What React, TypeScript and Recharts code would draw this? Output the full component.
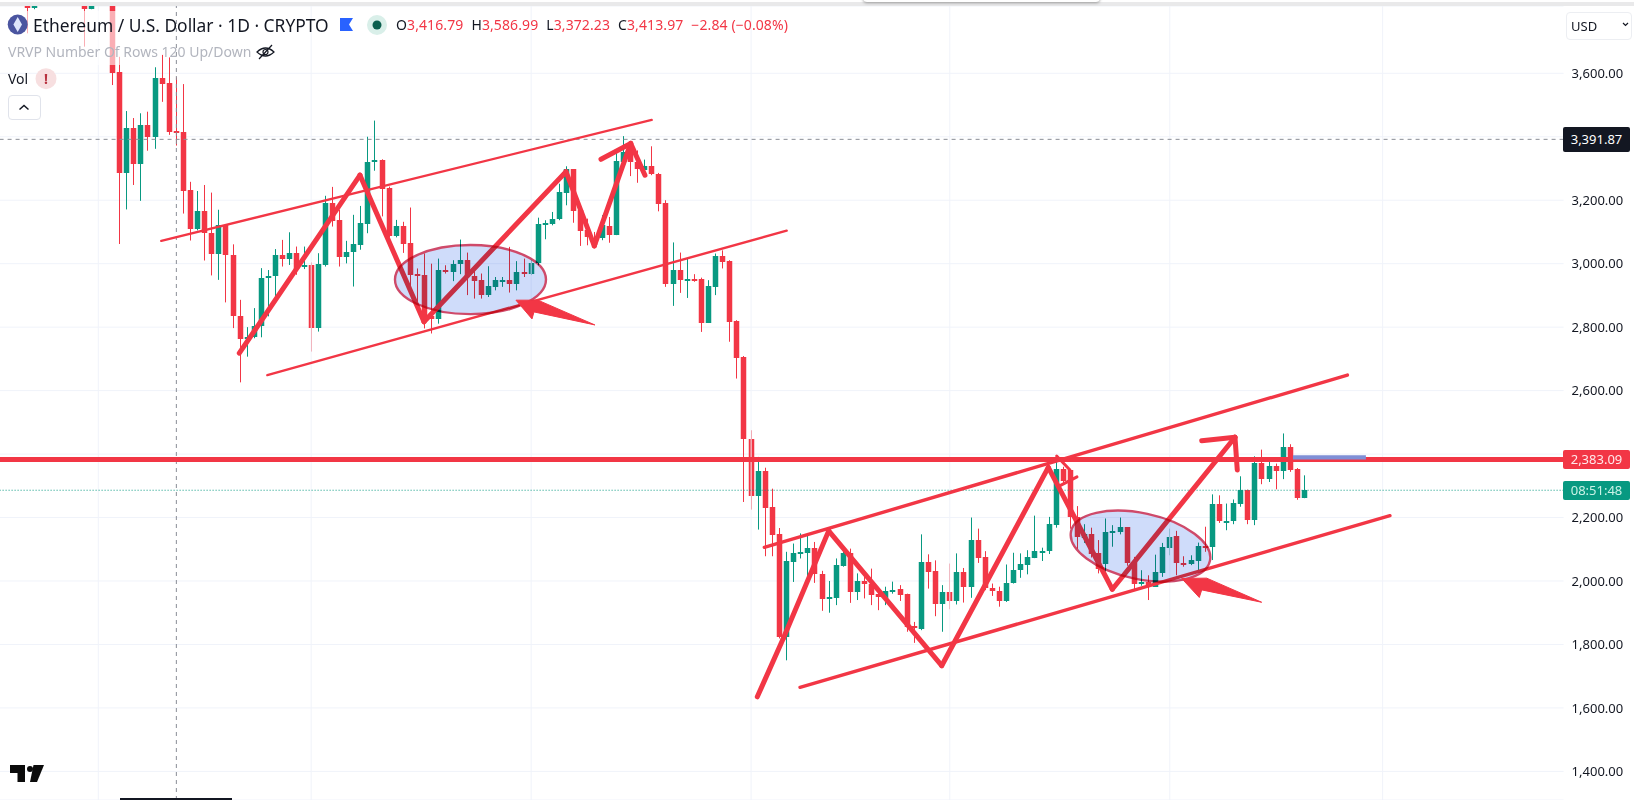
import {
  Bar,
  CartesianGrid,
  ComposedChart,
  ReferenceArea,
  ReferenceLine,
  XAxis,
  YAxis,
} from 'recharts'

const UP = '#089981'
const DOWN = '#f23645'
const GRID = '#f0f3fa'
const FONT = '"Noto Sans", Roboto, sans-serif'

// day 0 is 1 Nov, the series starts at day -10; null = candle sits above the visible range
const FIRST_DAY = -10
const opens = [
  3850, 3805, null, null, null, null, null, null, 3850, 3804, null, null, 3830,
  3604, 3287, 3428, 3315, 3437, 3400, 3585, 3570, 3416.79, 3415, 3231, 3110, 3166, 3096, 3029, 3121, 3026, 2834,
  2763, 2770, 2804, 2954, 2960, 3027, 3016, 3034, 2993, 2996, 2798, 2996, 3190, 3138, 3020, 3038, 3059, 3125, 3320,
  3327, 3238, 3086, 3118, 3065, 2967, 2964, 2835, 2825, 2980, 2974, 2998, 3011, 2962, 2948, 2901, 2925, 2947, 2950,
  2935, 2973, 2967, 3001, 3122, 3124, 3140, 3223, 3298, 3168, 3105, 3080, 3081, 3120, 3091, 3320, 3373, 3320, 3294,
  3309, 3284, 3190, 2935, 2979, 2950, 2953, 2951, 2814, 2927, 3024, 3008, 2819, 2705, 2449, 2268, 2346, 2232, 2147,
  1824, 2060, 2088, 2089, 2105, 2023, 1942, 1947, 2047, 2087, 1966, 2000, 1992, 1958, 1947, 1970, 1974, 1958, 1858,
  1850, 2060, 2031, 1928, 1964, 1938, 2027, 1982, 2128, 2075, 1978, 1970, 1936, 1994, 2034, 2050, 2073, 2092, 2094,
  2176, 2354, 2349, 2202, 2137, 2147, 2087, 2055, 2153, 2154, 2170, 2060, 1994, 1996, 1982, 2026, 2104, 2141, 2058,
  2053, 2063, 2109, 2108, 2242, 2189, 2190, 2242, 2286, 2192, 2371, 2321, 2362, 2346, 2422, 2352, 2261,
]
const highs = [
  3900, 3880, null, null, null, null, null, null, 3880, 3880, null, null, 3900,
  3652, 3481, 3459, 3474, 3479, 3619, 3658, 3650, 3586.99, 3566, 3258, 3229, 3248, 3224, 3170, 3124, 3061, 2886,
  2800, 2860, 2986, 2980, 3046, 3075, 3099, 3054, 3054, 3004, 3033, 3214, 3242, 3170, 3072, 3154, 3182, 3400, 3451,
  3329, 3243, 3138, 3132, 3177, 2985, 3032, 3000, 3016, 2995, 3011, 3076, 3035, 2990, 2969, 2992, 2958, 2958, 3053,
  3008, 3016, 3011, 3145, 3137, 3163, 3252, 3307, 3298, 3168, 3142, 3100, 3153, 3147, 3357, 3402, 3378, 3357, 3328,
  3370, 3286, 3200, 3067, 3035, 3016, 2967, 2956, 2948, 3032, 3042, 3011, 2822, 2709, 2475, 2391, 2357, 2291, 2167,
  2092, 2118, 2150, 2147, 2123, 2032, 2000, 2071, 2102, 2102, 2024, 2013, 2039, 1976, 1982, 1998, 1987, 1960, 1871,
  2147, 2084, 2065, 1987, 2055, 2087, 2041, 2200, 2165, 2094, 1992, 1982, 2052, 2089, 2087, 2097, 2206, 2105, 2202,
  2393, 2360, 2351, 2236, 2179, 2168, 2129, 2197, 2176, 2200, 2170, 2076, 2034, 2018, 2083, 2120, 2165, 2158, 2078,
  2081, 2121, 2171, 2273, 2270, 2244, 2257, 2330, 2288, 2393, 2414, 2386, 2370, 2465, 2431, 2356, 2333,
]
const lows = [
  3726, 3802, null, null, null, null, null, null, 3684, 3802, null, null, 3563,
  3062, 3171, 3248, 3198, 3356, 3362, 3510, 3406, 3372.23, 3158, 3073, 3105, 3010, 2963, 2949, 2878, 2797, 2626,
  2707, 2765, 2768, 2834, 2897, 2991, 2996, 2965, 2983, 2723, 2786, 2991, 3117, 2991, 3001, 2928, 3044, 3096, 3293,
  3149, 3083, 3083, 3034, 2901, 2875, 2796, 2780, 2811, 2969, 2945, 2967, 2901, 2890, 2890, 2895, 2916, 2927, 2909,
  2916, 2958, 2964, 2995, 3077, 3121, 3137, 3184, 3129, 3056, 3058, 3055, 3074, 3066, 3090, 3315, 3276, 3255, 3279,
  3279, 3165, 2927, 2867, 2908, 2892, 2943, 2785, 2813, 2901, 2985, 2754, 2638, 2249, 2225, 2162, 2078, 2078, 1819,
  1750, 1997, 2071, 2013, 1994, 1906, 1900, 1924, 2045, 1931, 1940, 1945, 1924, 1908, 1924, 1960, 1937, 1840, 1805,
  1845, 1976, 1889, 1840, 1911, 1926, 1932, 1947, 2057, 1971, 1953, 1919, 1934, 1992, 2010, 2021, 2072, 2063, 2085,
  2168, 2307, 2165, 2102, 2120, 2074, 2024, 2024, 2108, 2147, 2048, 1973, 1985, 1940, 1982, 2013, 2081, 2018, 2045,
  2050, 2026, 2092, 2066, 2183, 2160, 2179, 2234, 2179, 2176, 2305, 2312, 2289, 2321, 2344, 2256, 2261,
]
const closes = [
  3805, 3850, null, null, null, null, null, null, 3804, 3850, null, null, 3602,
  3287, 3428, 3315, 3437, 3400, 3585, 3566, 3415, 3413.97, 3230, 3110, 3166, 3096, 3029, 3121, 3026, 2834, 2763,
  2770, 2804, 2954, 2962, 3027, 3016, 3034, 2983, 2996, 2798, 2998, 3190, 3133, 3022, 3038, 3061, 3128, 3321, 3326,
  3236, 3086, 3119, 3062, 2965, 2965, 2822, 2827, 2980, 2977, 3000, 3011, 2962, 2946, 2901, 2929, 2948, 2950, 2935,
  2973, 2970, 3003, 3124, 3127, 3142, 3225, 3298, 3166, 3103, 3085, 3058, 3121, 3091, 3323, 3352, 3319, 3297, 3309,
  3282, 3188, 2935, 2979, 2948, 2953, 2948, 2814, 2929, 3024, 3006, 2817, 2703, 2449, 2268, 2346, 2230, 2146, 1824,
  2062, 2087, 2091, 2105, 2023, 1942, 1948, 2049, 2087, 1966, 2000, 1991, 1955, 1948, 1970, 1973, 1955, 1855, 1853,
  2060, 2029, 1927, 1964, 1938, 2027, 1982, 2128, 2073, 1978, 1968, 1936, 1995, 2036, 2052, 2075, 2093, 2096, 2179,
  2354, 2314, 2202, 2139, 2149, 2084, 2039, 2154, 2156, 2170, 2058, 1992, 1998, 1987, 2028, 2107, 2139, 2057, 2055,
  2066, 2110, 2107, 2242, 2188, 2190, 2245, 2286, 2192, 2371, 2321, 2362, 2346, 2422, 2349, 2261, 2286,
]

const priceTicks = [1400, 1600, 1800, 2000, 2200, 2400, 2600, 2800, 3000, 3200, 3400, 3600]
const monthStarts = [0, 30, 61, 92, 120, 151, 181]
const priceDomain = [1309.8, 3812.1]
const dayDomain = [-14.5, 206.5]

const resistance = 2383.09
const lastPrice = 2286
const crosshairPrice = 3391.87
const crosshairDay = 11

// drawings, as [day, price]
const channelLines = [
  { width: 2.4, points: [[8.88, 3072], [77.99, 3453]] },
  { width: 2.4, points: [[23.82, 2649], [97.01, 3104]] },
  { width: 3.4, points: [[93.86, 2106], [176.03, 2649]] },
  { width: 3.4, points: [[98.89, 1665], [182.03, 2206]] },
]
const swingLines = [
  { width: 5, points: [[19.87, 2718], [36.88, 3279], [45.9, 2817], [65.91, 3290], [69.9, 3056], [75.03, 3379], [77.04, 3279]] },
  { width: 5, points: [[70.84, 3329], [75.03, 3379]] },
  { width: 5, points: [[92.87, 1635], [96.53, 1819], [102.93, 2158], [118.86, 1733], [133.88, 2358], [142.9, 1974], [160.19, 2453], [160.51, 2350]] },
  { width: 5, points: [[155.5, 2442], [160.19, 2453]] },
  { width: 3, points: [[135.06, 2394], [136.93, 2350]] },
  { width: 3, points: [[135.4, 2299], [137.92, 2328]] },
]
const arrows = [
  [[58.86, 2885], [61.96, 2885], [69.98, 2807], [61.4, 2848], [61.12, 2826]],
  [[152.68, 2008], [156.2, 2009], [163.95, 1933], [155.5, 1972], [155.16, 1948]],
]
const ellipses = [
  { days: [41.81, 63.09], prices: [2841, 3059], tilt: 0 },
  { days: [136.87, 156.88], prices: [2006, 2214], tilt: 12 },
]
const targetBar = { days: [168.36, 178.64], prices: [2383, 2396] }

const slots = Array.from({ length: 221 }, (_, i) => i - 14)
const candleTable = slots.map((day) => {
  const i = day - FIRST_DAY
  const open = opens[i]
  if (open === null || open === undefined) return { day }
  return { day, open, high: highs[i], low: lows[i], close: closes[i], range: [lows[i], highs[i]] }
})

function Candle(props: any) {
  const { x, y, width, height, payload } = props
  if (!payload || payload.open === undefined) return null
  const { open, high, low, close } = payload
  const toY = (v: number) => y + (height * (high - v)) / (high - low)
  const color = close >= open ? UP : DOWN
  const cx = Math.round(x + width / 2 - 0.5) + 0.5
  const top = Math.round(toY(Math.max(open, close)))
  const bottom = Math.max(Math.round(toY(Math.min(open, close))), top + 2)
  return (
    <g>
      <line x1={cx} x2={cx} y1={y} y2={y + height} stroke={color} strokeWidth={1} />
      <rect x={cx - 2.75} y={top} width={5.5} height={bottom - top} fill={color} />
    </g>
  )
}

function polygonShape(vertices: number[][]) {
  const xs = vertices.map((v) => v[0])
  const ys = vertices.map((v) => v[1])
  const minX = Math.min(...xs)
  const maxX = Math.max(...xs)
  const minY = Math.min(...ys)
  const maxY = Math.max(...ys)
  return (p: any) => {
    const pts = vertices
      .map((v) => {
        const px = p.x + (p.width * (v[0] - minX)) / (maxX - minX)
        const py = p.y + (p.height * (maxY - v[1])) / (maxY - minY)
        return `${px},${py}`
      })
      .join(' ')
    return <polygon points={pts} fill={DOWN} stroke={DOWN} strokeWidth={1} strokeLinejoin="round" />
  }
}

function ellipseShape(tilt: number) {
  return (p: any) => {
    const cx = p.x + p.width / 2
    const cy = p.y + p.height / 2
    return (
      <ellipse
        cx={cx}
        cy={cy}
        rx={p.width / 2}
        ry={p.height / 2}
        transform={`rotate(${tilt} ${cx} ${cy})`}
        fill="#cfdcfa"
        stroke="#cf4a6a"
        strokeWidth={2.4}
        style={{ mixBlendMode: 'multiply' }}
      />
    )
  }
}

const axisBox = (top: number, height: number, background: string, color: string, text: string) => (
  <div
    style={{
      position: 'absolute',
      left: 1563,
      top,
      width: 67,
      height,
      lineHeight: `${height}px`,
      background,
      color,
      borderRadius: 2,
      fontSize: 13,
      textAlign: 'center',
    }}
  >
    {text}
  </div>
)

function Legend() {
  const values = [
    ['O', '3,416.79'],
    ['H', '3,586.99'],
    ['L', '3,372.23'],
    ['C', '3,413.97'],
  ]
  return (
    <>
      <div style={{ position: 'absolute', left: 0, top: 11, width: 122, height: 54, background: 'rgba(255,255,255,0.6)' }} />
      <div style={{ position: 'absolute', left: 0, top: 0, width: 1634, height: 2, background: '#fff' }} />
      <div style={{ position: 'absolute', left: 0, top: 2, width: 1634, height: 4, background: '#e9e9ea' }} />
      <div style={{ position: 'absolute', left: 863, top: -6, width: 237, height: 8, background: '#fff', borderRadius: 6, boxShadow: '0 1px 3px rgba(0,0,0,0.35)' }} />
      <svg width={1634} height={800} style={{ position: 'absolute', left: 0, top: 0 }}>
        <circle cx={17.7} cy={24.5} r={10} fill="#4b55a0" />
        <polygon points="17.7,17 22,24.5 17.7,32 13.4,24.5" fill="#dfe6fb" />
        <polygon points="340,18 353,18 349,24.5 353,31 340,31" fill="#2962ff" />
        <circle cx={377} cy={25} r={10} fill="#d9efe9" />
        <circle cx={377} cy={25} r={4.5} fill="#0b5f4e" />
        <circle cx={46} cy={78.7} r={10.5} fill="#f7dfe0" />
        <path d="M19.5 109.5 L24 105.5 L28.5 109.5" fill="none" stroke="#131722" strokeWidth={1.5} />
        <g fill="none" stroke="#131722" strokeWidth={1.2}>
          <path d="M257 52 Q265.5 44 274 52 Q265.5 60 257 52 Z" />
          <circle cx={265.5} cy={52} r={2.5} />
          <path d="M259 59 L272 45" />
        </g>
        <path d="M10 765 H25 V782 H17.5 V773 H10 Z" fill="#0b0b0b" />
        <circle cx={30} cy={769} r={3} fill="#0b0b0b" />
        <path d="M33.5 765 H44 L37 782 H30 Z" fill="#0b0b0b" />
        <path d="M1623 23 L1625.5 25.5 L1628 23" fill="none" stroke="#131722" strokeWidth={1.2} />
      </svg>
      <div style={{ position: 'absolute', left: 33, top: 13, fontSize: 17.4, lineHeight: '24px', color: '#131722', whiteSpace: 'nowrap' }}>
        Ethereum / U.S. Dollar · 1D · CRYPTO
      </div>
      <div style={{ position: 'absolute', left: 396, top: 15, fontSize: 14, lineHeight: '20px', letterSpacing: 0.1, whiteSpace: 'nowrap', color: DOWN }}>
        {values.map(([k, v]) => (
          <span key={k} style={{ marginRight: 8 }}>
            <span style={{ color: '#131722' }}>{k}</span>
            {v}
          </span>
        ))}
        −2.84 (−0.08%)
      </div>
      <div style={{ position: 'absolute', left: 8, top: 41, fontSize: 14, lineHeight: '22px', color: '#b2b5be', whiteSpace: 'nowrap' }}>
        VRVP Number Of Rows 120 Up/Down
      </div>
      <div style={{ position: 'absolute', left: 8, top: 68, fontSize: 14, lineHeight: '22px', color: '#131722' }}>Vol</div>
      <div style={{ position: 'absolute', left: 36, top: 68, width: 20, textAlign: 'center', fontSize: 14, fontWeight: 700, lineHeight: '22px', color: '#b8323f' }}>!</div>
      <div style={{ position: 'absolute', left: 8, top: 95, width: 31, height: 23, border: '1px solid #e0e3eb', borderRadius: 4 }} />
      <div style={{ position: 'absolute', left: 1566, top: 12, width: 64, height: 26, border: '1px solid #eceef2', borderRadius: 4, fontSize: 13, lineHeight: '26px', color: '#131722', textIndent: 4 }}>USD</div>
      {axisBox(127, 25, '#131722', '#ffffff', '3,391.87')}
      {axisBox(450, 19, DOWN, '#ffe8ea', '2,383.09')}
      {axisBox(481, 19, UP, '#c9f2e6', '08:51:48')}
      <div style={{ position: 'absolute', left: 120, top: 798, width: 112, height: 2, background: '#131722' }} />
    </>
  )
}

export default function App() {
  return (
    <div style={{ position: 'absolute', left: 0, top: 0, width: 1634, height: 800, overflow: 'hidden', background: '#fff', fontFamily: FONT }}>
      <ComposedChart
        width={1634}
        height={800}
        data={candleTable}
        margin={{ top: 6, right: 0, bottom: 0, left: -4.59 }}
      >
        <CartesianGrid yAxisId="price" xAxisId="days" vertical={false} stroke={GRID} strokeWidth={1} />
        <XAxis xAxisId="candles" dataKey="day" type="category" hide />
        <XAxis xAxisId="days" dataKey="day" type="number" domain={dayDomain} allowDataOverflow hide />
        <YAxis
          yAxisId="price"
          orientation="right"
          width={70.4}
          domain={priceDomain}
          allowDataOverflow
          ticks={priceTicks}
          interval={0}
          axisLine={false}
          tickLine={false}
          tickSize={0}
          tickMargin={8}
          tick={{ fill: '#131722', fontSize: 13, fontFamily: FONT }}
          tickFormatter={(value) => Number(value).toLocaleString('en-US', { minimumFractionDigits: 2 })}
        />
        {monthStarts.map((day) => (
          <ReferenceLine key={day} xAxisId="days" yAxisId="price" x={day} stroke={GRID} strokeWidth={1} />
        ))}
        <ReferenceLine xAxisId="days" yAxisId="price" y={lastPrice} stroke={UP} strokeDasharray="1 2" />
        <Bar
          xAxisId="candles"
          yAxisId="price"
          dataKey="range"
          barSize={5}
          shape={Candle}
          isAnimationActive={false}
        />
        <ReferenceLine xAxisId="days" yAxisId="price" y={crosshairPrice} stroke="#8a8d96" strokeDasharray="4 4" />
        <ReferenceLine xAxisId="days" yAxisId="price" x={crosshairDay} stroke="#8a8d96" strokeDasharray="4 4" />
        <ReferenceLine xAxisId="days" yAxisId="price" y={resistance} stroke={DOWN} strokeWidth={5} />
        {[...channelLines, ...swingLines].flatMap((line, li) =>
          line.points.slice(1).map((pt, i) => (
            <ReferenceLine
              key={`${li}-${i}`}
              xAxisId="days"
              yAxisId="price"
              segment={[
                { x: line.points[i][0], y: line.points[i][1] },
                { x: pt[0], y: pt[1] },
              ]}
              stroke={DOWN}
              strokeWidth={line.width}
              strokeLinecap="round"
            />
          )),
        )}
        {ellipses.map((e) => (
          <ReferenceArea
            key={e.days[0]}
            xAxisId="days"
            yAxisId="price"
            x1={e.days[0]}
            x2={e.days[1]}
            y1={e.prices[0]}
            y2={e.prices[1]}
            zIndex={450}
            shape={ellipseShape(e.tilt)}
          />
        ))}
        <ReferenceArea
          xAxisId="days"
          yAxisId="price"
          x1={targetBar.days[0]}
          x2={targetBar.days[1]}
          y1={targetBar.prices[0]}
          y2={targetBar.prices[1]}
          zIndex={460}
          fill="#7f8fd6"
          fillOpacity={1}
          stroke="none"
        />
        {arrows.map((vertices) => {
          const xs = vertices.map((v) => v[0])
          const ys = vertices.map((v) => v[1])
          return (
            <ReferenceArea
              key={xs[0]}
              xAxisId="days"
              yAxisId="price"
              x1={Math.min(...xs)}
              x2={Math.max(...xs)}
              y1={Math.min(...ys)}
              y2={Math.max(...ys)}
              zIndex={460}
              shape={polygonShape(vertices)}
            />
          )
        })}
      </ComposedChart>
      <Legend />
    </div>
  )
}
